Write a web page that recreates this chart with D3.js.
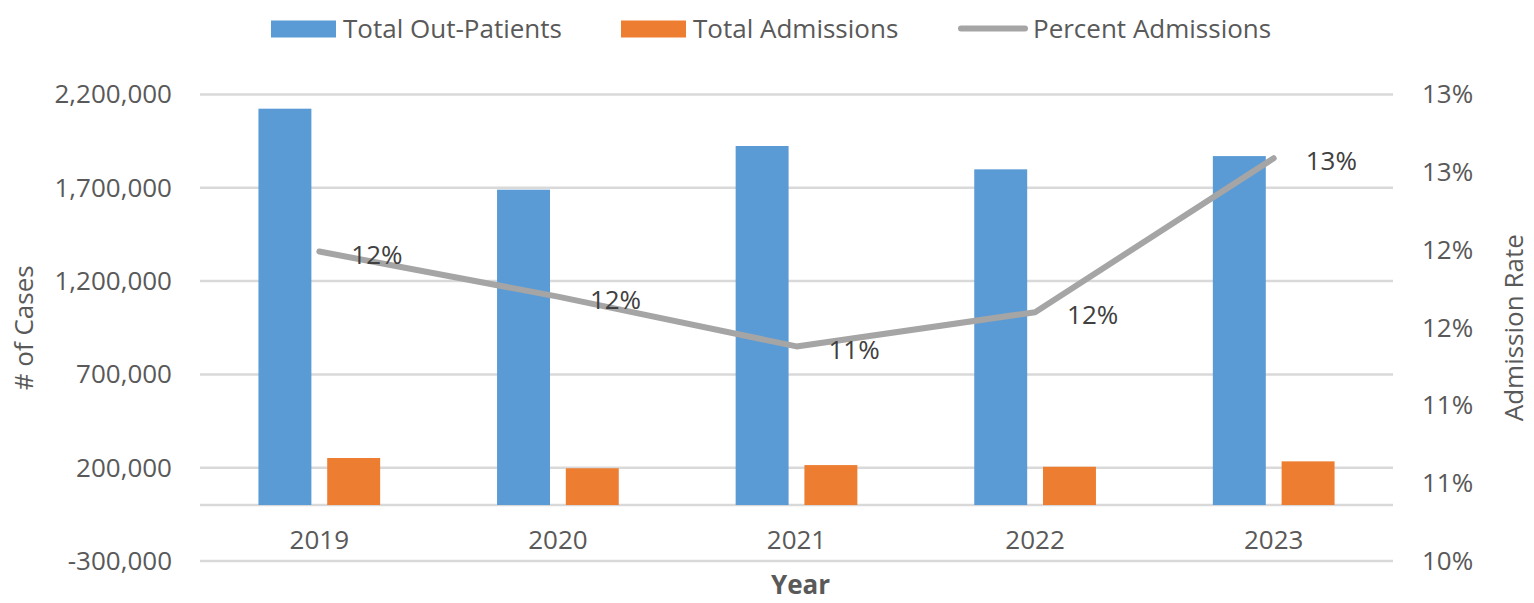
<!DOCTYPE html>
<html>
<head>
<meta charset="utf-8">
<script src="https://cdn.jsdelivr.net/npm/d3@7"></script>
<style>
  body { margin: 0; background: #fff; }
  text { font-family: "Open Sans", sans-serif; }
</style>
</head>
<body>
<svg id="chart"></svg>
<script>
// chart data
const years = ["2019", "2020", "2021", "2022", "2023"];
const outPatients = [2124000, 1690000, 1924000, 1799000, 1870000];
const admissions = [252000, 197000, 214000, 205000, 234000];
const percentAdmissions = [0.1199, 0.1170, 0.1138, 0.1160, 0.1259];
const leftTicks = [-300000, 200000, 700000, 1200000, 1700000, 2200000];
const rightTicks = [0.10, 0.105, 0.11, 0.115, 0.12, 0.125, 0.13];
const seriesNames = ["Total Out-Patients", "Total Admissions", "Percent Admissions"];

const W = 1534, H = 603;
const margin = {top: 94.5, right: 141, bottom: 42, left: 200};
const width = W - margin.left - margin.right,
      height = H - margin.top - margin.bottom;

const textColor = "#595959";
const fontSize = "26px";

const svg = d3.select("#chart").attr("width", W).attr("height", H);
const g = svg.append("g").attr("transform", "translate(" + margin.left + "," + margin.top + ")");

// scales
const xScale = d3.scaleBand().domain(years).range([0, width]).padding(0);
const subScale = d3.scaleBand().domain(["out", "adm"]).range([0, xScale.bandwidth()])
  .paddingInner(0.23).paddingOuter(0.85);
const yScale = d3.scaleLinear().domain([-300000, 2200000]).range([height, 0]);
const yScaleRight = d3.scaleLinear().domain([0.10, 0.13]).range([height, 0]);

const fmtNum = d3.formatLocale({decimal: ".", thousands: ",", grouping: [3], currency: ["$", ""], minus: "-"}).format(",");
const fmtPct = d3.format(".0%");

// gridlines
g.append("g")
  .selectAll("line")
  .data(leftTicks.concat([0]))
  .join("line")
  .attr("x1", 0).attr("x2", width)
  .attr("y1", d => yScale(d)).attr("y2", d => yScale(d))
  .attr("stroke", "#d9d9d9")
  .attr("stroke-width", 2.5);

// left axis
const leftAxis = g.append("g")
  .call(d3.axisLeft(yScale).tickValues(leftTicks).tickFormat(fmtNum).tickSize(0).tickPadding(28));
leftAxis.select(".domain").remove();
leftAxis.selectAll("text").style("font-size", fontSize).style("font-family", "'Open Sans', sans-serif").attr("fill", textColor);

// right axis
const rightAxis = g.append("g")
  .attr("transform", "translate(" + width + ",0)")
  .call(d3.axisRight(yScaleRight).tickValues(rightTicks).tickFormat(fmtPct).tickSize(0).tickPadding(29));
rightAxis.select(".domain").remove();
rightAxis.selectAll("text").style("font-size", fontSize).style("font-family", "'Open Sans', sans-serif").attr("fill", textColor);

// x axis labels
const xAxis = g.append("g")
  .attr("transform", "translate(0," + yScale(0) + ")")
  .call(d3.axisBottom(xScale).tickSize(0).tickPadding(26));
xAxis.select(".domain").remove();
xAxis.selectAll("text").style("font-size", fontSize).style("font-family", "'Open Sans', sans-serif").attr("fill", textColor);

// bars
g.append("g").selectAll("rect")
  .data(years.map((y, i) => ({year: y, value: outPatients[i]})))
  .join("rect")
  .attr("x", d => xScale(d.year) + subScale("out"))
  .attr("width", subScale.bandwidth())
  .attr("y", d => yScale(d.value))
  .attr("height", d => yScale(0) - yScale(d.value))
  .attr("fill", "#5b9bd5");

g.append("g").selectAll("rect")
  .data(years.map((y, i) => ({year: y, value: admissions[i]})))
  .join("rect")
  .attr("x", d => xScale(d.year) + subScale("adm"))
  .attr("width", subScale.bandwidth())
  .attr("y", d => yScale(d.value))
  .attr("height", d => yScale(0) - yScale(d.value))
  .attr("fill", "#ed7d31");

// percent line
const lineData = years.map((y, i) => ({year: y, value: percentAdmissions[i]}));
const pctLine = d3.line()
  .x(d => xScale(d.year) + xScale.bandwidth() / 2)
  .y(d => yScaleRight(d.value));

g.append("path")
  .datum(lineData)
  .attr("fill", "none")
  .attr("stroke", "#a5a5a5")
  .attr("stroke-width", 6)
  .attr("stroke-linejoin", "round")
  .attr("stroke-linecap", "round")
  .attr("d", pctLine);

// data labels
g.append("g").selectAll("text")
  .data(lineData)
  .join("text")
  .attr("x", d => xScale(d.year) + xScale.bandwidth() / 2 + 32)
  .attr("y", d => yScaleRight(d.value) + 3)
  .attr("dy", "0.35em")
  .style("font-size", fontSize)
  .attr("fill", "#404040")
  .text(d => fmtPct(d.value));

// axis titles
svg.append("text")
  .attr("transform", "translate(24," + (margin.top + height / 2) + ") rotate(-90)")
  .attr("text-anchor", "middle")
  .attr("dy", "0.35em")
  .style("font-size", fontSize)
  .attr("fill", textColor)
  .text("# of Cases");

svg.append("text")
  .attr("transform", "translate(1514," + (margin.top + height / 2) + ") rotate(-90)")
  .attr("text-anchor", "middle")
  .attr("dy", "0.35em")
  .style("font-size", fontSize)
  .attr("fill", textColor)
  .text("Admission Rate");

svg.append("text")
  .attr("x", margin.left + width / 2 + 4)
  .attr("y", 594)
  .attr("text-anchor", "middle")
  .style("font-size", "26px")
  .style("font-weight", "bold")
  .attr("fill", textColor)
  .text("Year");

// legend
const legend = svg.append("g");
const legendItems = [
  {name: seriesNames[0], x: 271, type: "rect", color: "#5b9bd5"},
  {name: seriesNames[1], x: 621, type: "rect", color: "#ed7d31"},
  {name: seriesNames[2], x: 961, type: "line", color: "#a5a5a5"}
];
legendItems.forEach(item => {
  if (item.type === "rect") {
    legend.append("rect")
      .attr("x", item.x).attr("y", 20.5)
      .attr("width", 65).attr("height", 17)
      .attr("fill", item.color);
  } else {
    legend.append("line")
      .attr("x1", item.x).attr("x2", item.x + 64)
      .attr("y1", 28.5).attr("y2", 28.5)
      .attr("stroke", item.color)
      .attr("stroke-width", 6)
      .attr("stroke-linecap", "round");
  }
  legend.append("text")
    .attr("x", item.x + 72)
    .attr("y", 29)
    .attr("dy", "0.35em")
    .style("font-size", fontSize)
    .attr("fill", textColor)
    .text(item.name);
});
</script>
</body>
</html>
